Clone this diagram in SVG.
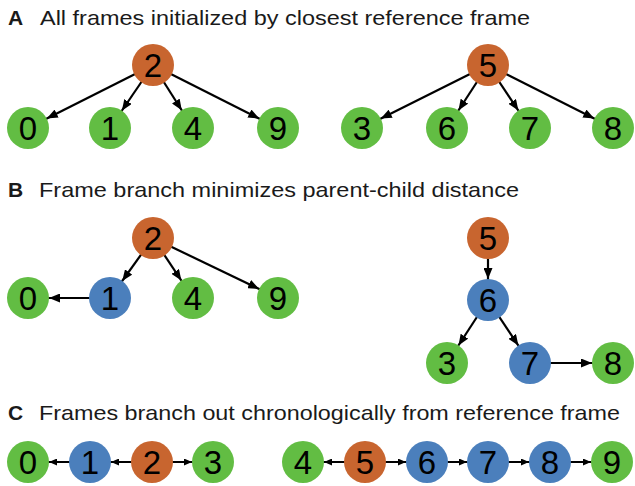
<svg xmlns="http://www.w3.org/2000/svg" width="635" height="486" viewBox="0 0 635 486">
  <style>
    .title { font-family: "Liberation Sans", Arial, sans-serif; font-size: 21px; fill: #1a1a1a; }
    .tag { font-weight: bold; }
    .node text { font-family: "Liberation Sans", Arial, sans-serif; font-size: 33px; fill: #000; text-anchor: middle; }
    .ref { fill: #c8652f; }
    .init { fill: #62bd43; }
    .branch { fill: #4b7fbc; }
    .edge { stroke: #000; stroke-width: 2.2; fill: none; marker-end: url(#arr); }
    .edge.s { stroke-width: 2; marker-end: url(#arrS); }
  </style>
  <defs>
    <!-- arrow tip sits on the edge of a radius-21 node when the line ends at its centre -->
    <marker id="arr" viewBox="0 0 32 9" markerWidth="32" markerHeight="9" refX="32" refY="4.5" orient="auto" markerUnits="userSpaceOnUse">
      <path d="M0,0 L11,4.5 L0,9 z" fill="#000"/>
    </marker>
    <marker id="arrS" viewBox="0 0 29 7" markerWidth="29" markerHeight="7" refX="29" refY="3.5" orient="auto" markerUnits="userSpaceOnUse">
      <path d="M0,0 L8,3.5 L0,7 z" fill="#000"/>
    </marker>
  </defs>
  <rect width="635" height="486" fill="#fff"/>

  <!-- section titles -->
  <text class="title" x="8" y="25"><tspan class="tag">A</tspan><tspan x="40" textLength="490" lengthAdjust="spacingAndGlyphs">All frames initialized by closest reference frame</tspan></text>
  <text class="title" x="8" y="197"><tspan class="tag">B</tspan><tspan x="39" textLength="480" lengthAdjust="spacingAndGlyphs">Frame branch minimizes parent-child distance</tspan></text>
  <text class="title" x="8" y="420"><tspan class="tag">C</tspan><tspan x="39" textLength="581" lengthAdjust="spacingAndGlyphs">Frames branch out chronologically from reference frame</tspan></text>

  <g id="connectors">
    <!-- A -->
    <line class="edge" x1="153" y1="65" x2="28" y2="128"/>
    <line class="edge" x1="153" y1="65" x2="110" y2="128"/>
    <line class="edge" x1="153" y1="65" x2="193" y2="128"/>
    <line class="edge" x1="153" y1="65" x2="278" y2="128"/>
    <line class="edge" x1="488" y1="65" x2="362" y2="128"/>
    <line class="edge" x1="488" y1="65" x2="447" y2="128"/>
    <line class="edge" x1="488" y1="65" x2="530" y2="128"/>
    <line class="edge" x1="488" y1="65" x2="613" y2="128"/>
    <!-- B -->
    <line class="edge" x1="153" y1="238" x2="110" y2="298"/>
    <line class="edge" x1="153" y1="238" x2="193" y2="298"/>
    <line class="edge" x1="153" y1="238" x2="278" y2="298"/>
    <line class="edge" x1="110" y1="298" x2="28" y2="298"/>
    <line class="edge" x1="488" y1="238" x2="488" y2="300"/>
    <line class="edge" x1="488" y1="300" x2="447" y2="363"/>
    <line class="edge" x1="488" y1="300" x2="530" y2="363"/>
    <line class="edge" x1="530" y1="363" x2="613" y2="363"/>
    <!-- C -->
    <line class="edge s" x1="90" y1="462" x2="28" y2="462"/>
    <line class="edge s" x1="152" y1="462" x2="90" y2="462"/>
    <line class="edge s" x1="152" y1="462" x2="213" y2="462"/>
    <line class="edge s" x1="365" y1="462" x2="303" y2="462"/>
    <line class="edge s" x1="365" y1="462" x2="427" y2="462"/>
    <line class="edge s" x1="427" y1="462" x2="488" y2="462"/>
    <line class="edge s" x1="488" y1="462" x2="550" y2="462"/>
    <line class="edge s" x1="550" y1="462" x2="612" y2="462"/>
  </g>

  <!-- A: nodes -->
  <g id="a2" class="node"><circle class="ref" cx="153" cy="65" r="21"/><text x="153" y="77">2</text></g>
  <g id="a0" class="node"><circle class="init" cx="28" cy="128" r="21"/><text x="28" y="140">0</text></g>
  <g id="a1" class="node"><circle class="init" cx="110" cy="128" r="21"/><text x="110" y="140">1</text></g>
  <g id="a4" class="node"><circle class="init" cx="193" cy="128" r="21"/><text x="193" y="140">4</text></g>
  <g id="a9" class="node"><circle class="init" cx="278" cy="128" r="21"/><text x="278" y="140">9</text></g>
  <g id="a5" class="node"><circle class="ref" cx="488" cy="65" r="21"/><text x="488" y="77">5</text></g>
  <g id="a3" class="node"><circle class="init" cx="362" cy="128" r="21"/><text x="362" y="140">3</text></g>
  <g id="a6" class="node"><circle class="init" cx="447" cy="128" r="21"/><text x="447" y="140">6</text></g>
  <g id="a7" class="node"><circle class="init" cx="530" cy="128" r="21"/><text x="530" y="140">7</text></g>
  <g id="a8" class="node"><circle class="init" cx="613" cy="128" r="21"/><text x="613" y="140">8</text></g>

  <!-- B: nodes -->
  <g id="b2" class="node"><circle class="ref" cx="153" cy="238" r="21"/><text x="153" y="250">2</text></g>
  <g id="b0" class="node"><circle class="init" cx="28" cy="298" r="21"/><text x="28" y="310">0</text></g>
  <g id="b1" class="node"><circle class="branch" cx="110" cy="298" r="21"/><text x="110" y="310">1</text></g>
  <g id="b4" class="node"><circle class="init" cx="193" cy="298" r="21"/><text x="193" y="310">4</text></g>
  <g id="b9" class="node"><circle class="init" cx="278" cy="298" r="21"/><text x="278" y="310">9</text></g>
  <g id="b5" class="node"><circle class="ref" cx="488" cy="238" r="21"/><text x="488" y="250">5</text></g>
  <g id="b6" class="node"><circle class="branch" cx="488" cy="300" r="21"/><text x="488" y="312">6</text></g>
  <g id="b3" class="node"><circle class="init" cx="447" cy="363" r="21"/><text x="447" y="375">3</text></g>
  <g id="b7" class="node"><circle class="branch" cx="530" cy="363" r="21"/><text x="530" y="375">7</text></g>
  <g id="b8" class="node"><circle class="init" cx="613" cy="363" r="21"/><text x="613" y="375">8</text></g>

  <!-- C: nodes -->
  <g id="c0" class="node"><circle class="init" cx="28" cy="462" r="21"/><text x="28" y="474">0</text></g>
  <g id="c1" class="node"><circle class="branch" cx="90" cy="462" r="21"/><text x="90" y="474">1</text></g>
  <g id="c2" class="node"><circle class="ref" cx="152" cy="462" r="21"/><text x="152" y="474">2</text></g>
  <g id="c3" class="node"><circle class="init" cx="213" cy="462" r="21"/><text x="213" y="474">3</text></g>
  <g id="c4" class="node"><circle class="init" cx="303" cy="462" r="21"/><text x="303" y="474">4</text></g>
  <g id="c5" class="node"><circle class="ref" cx="365" cy="462" r="21"/><text x="365" y="474">5</text></g>
  <g id="c6" class="node"><circle class="branch" cx="427" cy="462" r="21"/><text x="427" y="474">6</text></g>
  <g id="c7" class="node"><circle class="branch" cx="488" cy="462" r="21"/><text x="488" y="474">7</text></g>
  <g id="c8" class="node"><circle class="branch" cx="550" cy="462" r="21"/><text x="550" y="474">8</text></g>
  <g id="c9" class="node"><circle class="init" cx="612" cy="462" r="21"/><text x="612" y="474">9</text></g>
</svg>
